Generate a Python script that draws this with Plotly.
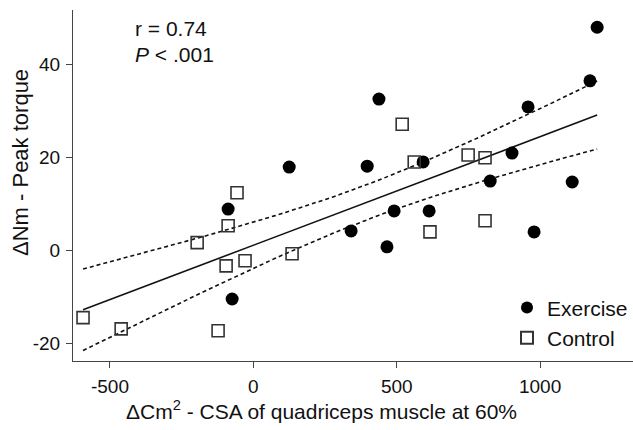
import numpy as np
import plotly.graph_objects as go

# Data
exercise_x = [1199, 1174, 958, 438, 125, 397, 592, 902, 826, 1112, 491, 613, 341, 466, 979, -88, -74]
exercise_y = [47.9, 36.4, 30.8, 32.5, 17.9, 18.1, 19.0, 20.9, 14.9, 14.7, 8.5, 8.5, 4.2, 0.8, 4.0, 8.9, -10.4]
control_x = [-594, -461, -123, -196, -88, -95, -29, 135, -57, 519, 561, 749, 808, 616, 808]
control_y = [-14.4, -16.8, -17.2, 1.7, 5.3, -3.3, -2.2, -0.7, 12.4, 27.1, 19.0, 20.5, 19.9, 4.0, 6.4]

x_ticks = [-500, 0, 500, 1000]
x_tick_labels = ["-500", "0", "500", "1000"]
y_ticks = [-20, 0, 20, 40]
y_tick_labels = ["-20", "0", "20", "40"]

# Regression fit with 95% confidence band computed from the data
xa = np.array(exercise_x + control_x, dtype=float)
ya = np.array(exercise_y + control_y, dtype=float)
n = len(xa)
b1, b0 = np.polyfit(xa, ya, 1)
resid = ya - (b0 + b1 * xa)
s = np.sqrt(np.sum(resid ** 2) / (n - 2))
sxx = np.sum((xa - xa.mean()) ** 2)
t = 2.042
xs = np.linspace(xa.min(), xa.max(), 100)
yfit = b0 + b1 * xs
hw = t * s * np.sqrt(1.0 / n + (xs - xa.mean()) ** 2 / sxx)

FONT = "Liberation Sans, Arial, sans-serif"

fig = go.Figure()
fig.add_trace(go.Scatter(x=xs, y=yfit, mode="lines",
                         line=dict(color="#111111", width=1.6), showlegend=False, hoverinfo="skip"))
fig.add_trace(go.Scatter(x=xs, y=yfit + hw, mode="lines",
                         line=dict(color="#111111", width=1.6, dash="4px,3px"), showlegend=False, hoverinfo="skip"))
fig.add_trace(go.Scatter(x=xs, y=yfit - hw, mode="lines",
                         line=dict(color="#111111", width=1.6, dash="4px,3px"), showlegend=False, hoverinfo="skip"))
fig.add_trace(go.Scatter(x=exercise_x, y=exercise_y, mode="markers", name="Exercise",
                         marker=dict(symbol="circle", size=13, color="black", line=dict(width=0))))
fig.add_trace(go.Scatter(x=control_x, y=control_y, mode="markers", name="Control",
                         marker=dict(symbol="square-open", size=12, color="#333333", line=dict(width=1.6))))

fig.update_layout(
    width=633, height=430,
    margin=dict(l=73, r=0, t=10, b=69),
    paper_bgcolor="white", plot_bgcolor="white",
    font=dict(family=FONT, size=19, color="#111111"),
    showlegend=True,
    legend=dict(x=1.0, y=0.21, xanchor="right", yanchor="top",
                font=dict(size=21, family=FONT), bgcolor="rgba(0,0,0,0)",
                itemsizing="constant", tracegroupgap=0, itemwidth=30),
    xaxis=dict(range=[-629, 1324], tickvals=x_ticks, ticktext=x_tick_labels, ticks="outside", ticklen=6,
               tickcolor="#444444", showline=True, linecolor="#444444", linewidth=1.2,
               showgrid=False, zeroline=False, tickfont=dict(size=19), ticklabelstandoff=2),
    yaxis=dict(range=[-23.7, 51.6], tickvals=y_ticks, ticktext=y_tick_labels, ticks="outside", ticklen=6,
               tickcolor="#444444", showline=True, linecolor="#444444", linewidth=1.2,
               showgrid=False, zeroline=False, tickfont=dict(size=19), ticklabelstandoff=2),
    annotations=[
        dict(text="ΔCm<sup>2</sup> - CSA of quadriceps muscle at 60%", xref="paper", yref="paper",
             x=(321 - 73) / 560, y=-(410 - 361) / 351, xanchor="center", yanchor="middle",
             showarrow=False, font=dict(size=21)),
        dict(text="ΔNm - Peak torque", xref="paper", yref="paper", textangle=-90,
             x=(20 - 73) / 560, y=(361 - 163) / 351, xanchor="center", yanchor="middle",
             showarrow=False, font=dict(size=22)),
        dict(text="r = 0.74", xref="paper", yref="paper",
             x=(133 - 73) / 560, y=(361 - 28) / 351, xanchor="left", yanchor="middle",
             showarrow=False, font=dict(size=21)),
        dict(text="<i>P</i> < .001", xref="paper", yref="paper",
             x=(133 - 73) / 560, y=(361 - 55) / 351, xanchor="left", yanchor="middle",
             showarrow=False, font=dict(size=21)),
    ],
)

fig.write_html("out.html")
